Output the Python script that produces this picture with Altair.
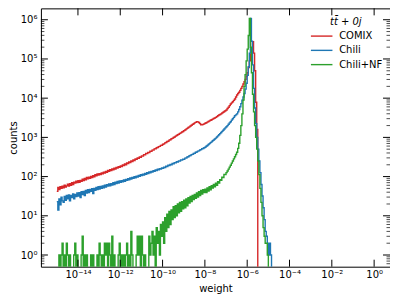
import altair as alt
import numpy as np
import pandas as pd

# ---- data ----
# bin left edges, log10(weight), 0.05-decade bins from 1e-15 to 10^-4.5
log_edges = np.round(np.arange(-300, -89) / 20.0, 3)

comix = [42, 53, 47, 55, 50, 57, 52, 60, 54, 58,
         64, 57, 66, 60, 70, 63, 72, 68, 76, 70,
         78, 71, 80, 76, 86, 79, 90, 83, 95, 88,
         97, 90, 101, 95, 106, 99, 111, 104, 116, 109,
         119, 112, 124, 117, 130, 123, 136, 128, 143, 136,
         150, 143, 156, 150, 163, 156, 171, 164, 180, 172,
         187, 179, 198, 191, 210, 201, 223, 214, 236, 229,
         250, 243, 266, 258, 282, 275, 301, 292, 318, 312,
         338, 336, 362, 359, 387, 385, 414, 413, 443, 444,
         474, 478, 508, 513, 544, 550, 582, 590, 624, 632,
         668, 681, 724, 738, 784, 800, 850, 868, 920, 942,
         995, 1025, 1078, 1112, 1168, 1204, 1266, 1305, 1372, 1414,
         1485, 1543, 1628, 1692, 1784, 1856, 1956, 2036, 2144, 2233,
         2350, 2420, 2505, 2490, 2395, 2245, 2095, 2085, 2142, 2208,
         2291, 2371, 2455, 2541, 2630, 2723, 2818, 2917, 3020, 3126,
         3236, 3388, 3548, 3715, 3846, 3981, 4169, 4365, 4571, 4786,
         5012, 5433, 5888, 6457, 7079, 7586, 8128, 8810, 9550, 10715,
         12000, 13200, 14100, 15800, 17800, 20000, 22900, 26300, 30200, 36300,
         44700, 60300, 89100, 132000, 191000, 275000, 141000, 50100, 7900, 1600,
         0, 0, 0, 0, 0, 0, 0, 0, 0, 0,
         0, 0, 0, 0, 0, 0, 0, 0, 0, 0, 0]

chili = [23, 14, 27, 19, 30, 24, 22, 31, 25, 33,
         27, 34, 24, 33, 29, 36, 27, 35, 31, 38,
         32, 39, 29, 41, 35, 42, 33, 44, 38, 46,
         39, 47, 42, 49, 37, 50, 45, 53, 47, 55,
         48, 56, 50, 58, 52, 60, 54, 62, 57, 65,
         58, 66, 61, 70, 63, 72, 66, 75, 68, 77,
         71, 79, 74, 82, 76, 85, 80, 89, 83, 92,
         87, 95, 90, 99, 93, 103, 97, 107, 101, 111,
         106, 115, 110, 120, 115, 125, 120, 131, 125, 136,
         131, 141, 137, 148, 143, 154, 149, 160, 155, 167,
         162, 173, 171, 184, 181, 194, 191, 204, 201, 215,
         211, 226, 224, 239, 236, 251, 249, 265, 263, 279,
         278, 296, 299, 316, 321, 339, 344, 363, 369, 389,
         395, 416, 424, 446, 454, 477, 487, 511, 522, 546,
         560, 594, 622, 661, 692, 736, 770, 818, 856, 910,
         955, 1023, 1091, 1169, 1247, 1333, 1426, 1524, 1629, 1742,
         1862, 1995, 2163, 2344, 2512, 2754, 2985, 3236, 3548, 3758,
         3981, 4467, 5129, 6026, 7244, 8913, 10715, 13183, 16982, 23988,
         38019, 63096, 141254, 1071519, 281838, 70795, 17783, 5623, 2239, 1000,
         501, 251, 126, 63, 32, 16, 8, 4, 3, 2,
         1, 2, 1, 0, 0, 0, 0, 0, 0, 0, 0]

chili_nf = [0, 0, 1, 0, 1, 2, 0, 1, 0, 2,
            1, 0, 1, 0, 0, 0, 1, 2, 0, 1,
            0, 0, 0, 1, 3, 0, 1, 0, 1, 0,
            0, 0, 1, 0, 1, 0, 0, 0, 1, 0,
            2, 1, 0, 1, 0, 2, 1, 2, 0, 2,
            1, 0, 3, 0, 1, 0, 0, 0, 1, 2,
            0, 1, 0, 1, 0, 1, 2, 0, 1, 0,
            4, 1, 0, 0, 0, 1, 3, 1, 3, 0,
            3, 1, 0, 1, 0, 0, 0, 3, 1, 2,
            4, 1, 3, 0, 5, 2, 4, 1, 6, 3,
            7, 2, 9, 4, 11, 5, 13, 6, 14, 8,
            17, 9, 18, 10, 20, 12, 22, 13, 23, 15,
            25, 16, 27, 18, 29, 21, 31, 23, 33, 26,
            35, 28, 38, 30, 41, 33, 44, 36, 46, 39,
            48, 39, 51, 43, 55, 46, 59, 51, 63, 55,
            68, 60, 74, 68, 83, 80, 97, 95, 113, 112,
            126, 139, 155, 174, 195, 220, 250, 283, 320, 366,
            417, 525, 708, 1122, 1995, 3981, 8913, 19953, 39811, 89125,
            177828, 398107, 1071519, 199526, 44668, 12589, 4467, 1995, 1000, 501,
            251, 112, 50, 22, 10, 5, 3, 2, 2, 1,
            0, 0, 0, 0, 0, 0, 0, 0, 0, 0, 0]

series_names = ["COMIX", "Chili", "Chili+NF"]
series_colors = ["#d62728", "#1f77b4", "#2ca02c"]
legend_title = "tt\u0304 + 0j"

x_major_ticks = [1e-14, 1e-12, 1e-10, 1e-8, 1e-6, 1e-4, 1e-2, 1e0]
y_major_ticks = [1e0, 1e1, 1e2, 1e3, 1e4, 1e5, 1e6]
y_minor_ticks = [m * 10.0 ** k for k in range(-1, 7) for m in range(2, 10)
                 if 0.504 < m * 10.0 ** k < 1.95e6]

# ---- layout ----
W, H = 350, 259
FONT = "DejaVu Sans"
xs = alt.Scale(type="log", domain=[10 ** -15.75, 10 ** 0.75], nice=False)
ys = alt.Scale(type="log", domain=[10 ** -0.298, 10 ** 6.29], nice=False)

sup = {"-": "\u207b", "0": "\u2070", "1": "\u00b9", "2": "\u00b2", "3": "\u00b3",
       "4": "\u2074", "5": "\u2075", "6": "\u2076", "7": "\u2077", "8": "\u2078", "9": "\u2079"}
expr = "toString(round(log(datum.value)/LN10))"
for k, v in sup.items():
    expr = f"replace({expr}, regexp('{k}','g'), '{v}')"
label_expr = "'10' + " + expr

x_axis = alt.Axis(values=x_major_ticks, labelExpr=label_expr, ticks=False, tickSize=0,
                  domain=False, grid=False, title="weight", titleX=W / 2, titleY=25,
                  titleBaseline="alphabetic", titleAlign="center", labelPadding=3,
                  labelFontSize=10, titleFontSize=10, labelFont=FONT, titleFont=FONT,
                  titleFontWeight="normal", labelColor="black", titleColor="black",
                  labelFlush=False, labelOverlap=False)
y_axis = alt.Axis(values=y_major_ticks, labelExpr=label_expr, ticks=False, tickSize=0,
                  domain=False, grid=False, title="counts", titleX=-24, titleY=H / 2,
                  titleAngle=270, titleBaseline="alphabetic", titleAlign="center",
                  labelPadding=4, labelFontSize=10, titleFontSize=10, labelFont=FONT,
                  titleFont=FONT, titleFontWeight="normal", labelColor="black",
                  titleColor="black", labelOverlap=False, labelFlush=False)

layers = []
for name, vals, col in zip(series_names, [comix, chili, chili_nf], series_colors):
    df = pd.DataFrame({"w": 10.0 ** log_edges, "count": vals})
    ch = alt.Chart(df).transform_calculate(c="max(datum.count, 0.05)").mark_line(
        interpolate="step-after", clip=True, strokeWidth=1.4, color=col
    ).encode(
        x=alt.X("w:Q", scale=xs, axis=x_axis),
        y=alt.Y("c:Q", scale=ys, axis=y_axis),
    )
    layers.append(ch)

# inward ticks on all four sides
xt = pd.DataFrame({"v": x_major_ticks})
ytm = pd.DataFrame({"v": y_major_ticks})
ytn = pd.DataFrame({"v": y_minor_ticks})
for y0, y1 in [(H, H - 7), (0, 7)]:
    layers.append(alt.Chart(xt).mark_rule(color="black", strokeWidth=1).encode(
        x=alt.X("v:Q", scale=xs, axis=x_axis), y=alt.value(y0), y2=alt.value(y1)))
for x0, x1 in [(0, 7), (W, W - 7)]:
    layers.append(alt.Chart(ytm).mark_rule(color="black", strokeWidth=1).encode(
        y=alt.Y("v:Q", scale=ys, axis=y_axis), x=alt.value(x0), x2=alt.value(x1)))
for x0, x1 in [(0, 3.5), (W, W - 3.5)]:
    layers.append(alt.Chart(ytn).mark_rule(color="black", strokeWidth=0.7).encode(
        y=alt.Y("v:Q", scale=ys, axis=y_axis), x=alt.value(x0), x2=alt.value(x1)))

# legend
leg = pd.DataFrame({"name": series_names, "col": series_colors, "idx": [0, 1, 2]})
leg_base = alt.Chart(leg).transform_calculate(ly="27.8 + 14.3*datum.idx")
layers.append(leg_base.mark_rule(strokeWidth=1.4).encode(
    x=alt.value(270.7), x2=alt.value(292.3), y=alt.Y("ly:Q", scale=None),
    color=alt.Color("col:N", scale=None)))
layers.append(leg_base.mark_text(align="left", baseline="middle", fontSize=10, font=FONT,
                                 color="black").encode(
    x=alt.value(299), y=alt.Y("ly:Q", scale=None), text="name:N"))
layers.append(alt.Chart(pd.DataFrame({"t": [legend_title]})).mark_text(
    align="center", baseline="middle", fontSize=10, font=FONT, fontStyle="italic",
    color="black").encode(x=alt.value(305.7), y=alt.value(13.3), text="t:N"))

chart = alt.layer(*layers).properties(
    width=W, height=H,
    autosize=alt.AutoSizeParams(type="none"),
    padding={"left": 33, "top": 0, "right": 0, "bottom": 27},
    background="white",
).configure_view(stroke="black", strokeWidth=1)

chart.save("out.html", embed_options={"renderer": "svg", "actions": False})
